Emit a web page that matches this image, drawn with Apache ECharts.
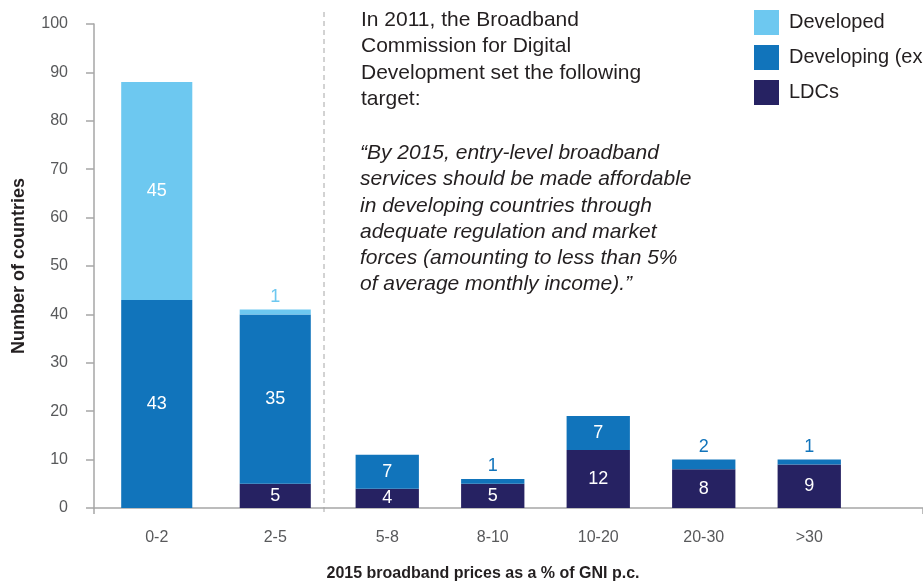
<!DOCTYPE html>
<html>
<head>
<meta charset="utf-8">
<script src="https://cdn.jsdelivr.net/npm/echarts@6/dist/echarts.min.js"></script>
<style>
html,body{margin:0;padding:0;background:#fff;}
#chart{width:923px;height:581px;}
</style>
</head>
<body>
<div id="chart"></div>
<script>
// ---- data ----
const categories = ['0-2', '2-5', '5-8', '8-10', '10-20', '20-30', '>30'];
const ldcs       = [0, 5, 4, 5, 12, 8, 9];
const developing = [43, 35, 7, 1, 7, 2, 1];
const developed  = [45, 1, 0, 0, 0, 0, 0];
const seriesNames = ['Developed', 'Developing (excl. LDCs)', 'LDCs'];
const yMin = 0, yMax = 100, yInterval = 10;
const splitAt = 2; // first two categories are in the left panel

const colors = { 'Developed': '#6dc8f0', 'Developing (excl. LDCs)': '#1174bb', 'LDCs': '#262262' };
const FONT = '"Liberation Sans", Arial, sans-serif';

function items(vals, color) {
  return vals.map(v => {
    if (!v) return { value: null };
    const small = v <= 2;
    return {
      value: v,
      label: {
        show: true,
        position: small ? 'top' : 'inside',
        distance: 4,
        color: small ? color : '#ffffff',
        fontSize: 18,
        fontFamily: FONT
      }
    };
  });
}

const stackSeries = [['LDCs', ldcs], ['Developing (excl. LDCs)', developing], ['Developed', developed]];
const series = [];
[0, 1].forEach(g => {
  stackSeries.forEach(([name, vals]) => {
    const part = g === 0 ? vals.slice(0, splitAt) : vals.slice(splitAt);
    series.push({
      name: name,
      type: 'bar',
      stack: 'g' + g,
      xAxisIndex: g,
      yAxisIndex: g,
      barWidth: '60%',
      itemStyle: { color: colors[name] },
      data: items(part, colors[name])
    });
  });
});

const axisGray = '#a6a6a6';
const labelGray = '#58595b';

const chart = echarts.init(document.getElementById('chart'), null, { renderer: 'canvas' });
chart.setOption({
  animation: false,
  backgroundColor: '#ffffff',
  textStyle: { fontFamily: FONT },
  title: {
    text: '2015 broadband prices as a % of GNI p.c.',
    left: 478, top: 561, textAlign: 'center',
    textStyle: { fontSize: 16, fontWeight: 'bold', color: '#231f20', fontFamily: FONT }
  },
  legend: {
    data: seriesNames,
    left: 754, top: 10,
    padding: 0,
    orient: 'vertical',
    itemWidth: 25, itemHeight: 25, itemGap: 10,
    icon: 'rect',
    textStyle: { fontSize: 20, color: '#231f20', fontFamily: FONT, padding: [0, 0, 0, 5] }
  },
  grid: [
    { left: 97.5, width: 237, top: 24, bottom: 73 },
    { left: 334.5, width: 527.5, top: 24, bottom: 73 },
    { left: 94, right: -5, top: 24, bottom: 73 }
  ],
  xAxis: [
    { type: 'category', gridIndex: 0, data: categories.slice(0, splitAt),
      axisLine: { show: false }, axisTick: { show: false },
      axisLabel: { color: labelGray, fontSize: 16, margin: 22, fontFamily: FONT } },
    { type: 'category', gridIndex: 1, data: categories.slice(splitAt),
      axisLine: { show: false }, axisTick: { show: false },
      axisLabel: { color: labelGray, fontSize: 16, margin: 22, fontFamily: FONT } },
    { type: 'value', gridIndex: 2, min: 0, max: 1, interval: 1,
      axisLine: { show: true, lineStyle: { color: axisGray, width: 1.5 } },
      axisTick: { show: true, length: 6, lineStyle: { color: axisGray, width: 1.5 } },
      axisLabel: { show: false }, splitLine: { show: false } }
  ],
  yAxis: [
    { type: 'value', gridIndex: 0, min: yMin, max: yMax, interval: yInterval, offset: 3.5,
      name: 'Number of countries', nameLocation: 'middle', nameGap: 66,
      nameTextStyle: { fontSize: 18, fontWeight: 'bold', color: '#231f20', fontFamily: FONT },
      axisLine: { show: true, lineStyle: { color: axisGray, width: 1.5 } },
      axisTick: { show: true, length: 8, lineStyle: { color: axisGray, width: 1.5 } },
      axisLabel: { color: labelGray, fontSize: 16, margin: 26, fontFamily: FONT },
      splitLine: { show: false } },
    { type: 'value', gridIndex: 1, min: yMin, max: yMax, interval: yInterval, show: false },
    { type: 'value', gridIndex: 2, min: yMin, max: yMax, show: false }
  ],
  graphic: [
    { type: 'line', z: 1, shape: { x1: 324, y1: 12, x2: 324, y2: 514 },
      style: { stroke: axisGray, lineWidth: 1, lineDash: [5, 4] } },
    { type: 'text', left: 361, top: 7,
      style: { text: 'In 2011, the Broadband\nCommission for Digital\nDevelopment set the following\ntarget:',
        font: '21px ' + FONT, fill: '#231f20', lineHeight: 26.4 } },
    { type: 'text', left: 360, top: 140,
      style: { text: '\u201cBy 2015, entry-level broadband\nservices should be made affordable\nin developing countries through\nadequate regulation and market\nforces (amounting to less than 5%\nof average monthly income).\u201d',
        font: 'italic 21px ' + FONT, fill: '#231f20', lineHeight: 26.3 } }
  ],
  series: series
});
</script>
</body>
</html>
